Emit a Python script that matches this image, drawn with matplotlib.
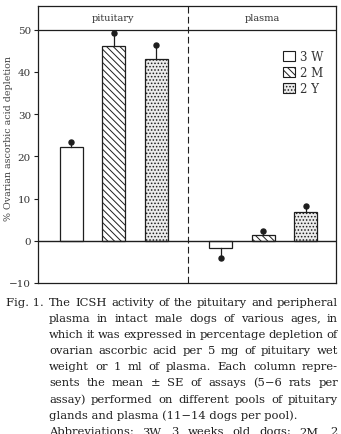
import matplotlib
matplotlib.use("Agg")
import matplotlib.pyplot as plt
from matplotlib.patches import Patch

plt.rcParams['font.family'] = ['DejaVu Serif']
plt.rcParams['hatch.linewidth'] = 0.7

# ---- data ----
groups = ['pituitary', 'plasma']
ages = ['3 W', '2 M', '2 Y']
pit_mean = [22.3, 46.2, 43.1]
pit_se = [1.1, 3.0, 3.2]
pla_mean = [-1.7, 1.3, 6.9]
pla_se = [2.3, 0.9, 1.3]
yticks = [-10, 0, 10, 20, 30, 40, 50]
caption_lines = [
    "The ICSH activity of the pituitary and peripheral",
    "plasma in intact male dogs of various ages, in",
    "which it was expressed in percentage depletion of",
    "ovarian ascorbic acid per 5 mg of pituitary wet",
    "weight or 1 ml of plasma. Each column repre-",
    "sents the mean \u00b1 SE of assays (5\u22126 rats per",
    "assay) performed on different pools of pituitary",
    "glands and plasma (11\u221214 dogs per pool).",
    "Abbreviations: 3W, 3 weeks old dogs; 2M, 2",
]
justified = [True, True, True, True, True, True, True, False, True]

W, H = 341, 435
ink = '#1e1e1e'
fig = plt.figure(figsize=(W / 100, H / 100), dpi=100)
ax = fig.add_axes([38 / W, 1 - 284 / H, (336 - 38) / W, (284 - 7) / H])

face = ['white', 'white', '#ebebeb']
hatches = [None, '\\\\\\\\\\', '.....']
offsets = [0.0, 3.53]
means = [pit_mean, pla_mean]
ses = [pit_se, pla_se]
bw = 0.54

for g in range(2):
    for i in range(3):
        x = 1 + i + offsets[g]
        m = means[g][i]
        s = ses[g][i]
        ax.bar(x, m, width=bw, color=face[i], edgecolor=ink, linewidth=0.9,
               hatch=hatches[i], zorder=2)
        tip = m + s if m >= 0 else m - s
        ax.plot([x, x], [m, tip], color=ink, lw=0.9, zorder=3)
        ax.plot([x], [tip], 'o', color=ink, ms=3.6, zorder=4)

ax.set_xlim(0.21, 7.25)
ax.set_ylim(-10, 55.6)
ax.axhline(0, color=ink, lw=1.0, zorder=3)
ax.axhline(50, color=ink, lw=0.9, zorder=3)
divider = 3.76
ax.axvline(divider, color=ink, lw=0.8, ls=(0, (6, 3)), zorder=1)

ax.text((0.21 + divider) / 2, 52.9, groups[0], ha='center', va='center',
        fontsize=7, color='#333333')
ax.text((divider + 7.25) / 2, 52.9, groups[1], ha='center', va='center',
        fontsize=7, color='#333333')

ax.set_xticks([])
ax.set_yticks(yticks)
ax.set_yticklabels([str(t) if t >= 0 else '\u2212' + str(-t) for t in yticks],
                   fontsize=7.5, color='#333333')
ax.tick_params(axis='y', direction='out', length=3, width=0.8, pad=2, colors=ink,
               labelcolor='#333333')
for sp in ax.spines.values():
    sp.set_color(ink)
    sp.set_linewidth(0.9)

ax.set_ylabel('% Ovarian ascorbic acid depletion', fontsize=6.8, color='#444444')
ax.yaxis.set_label_coords(-0.085, 0.527)

handles = [Patch(facecolor=face[i], edgecolor=ink, hatch=hatches[i], linewidth=0.8)
           for i in range(3)]
leg = ax.legend(handles, ages, loc='upper left',
                bbox_to_anchor=((283 - 38) / 298, (284 - 51) / 277),
                frameon=False, fontsize=8.5, handlelength=1.05, handleheight=0.95,
                handletextpad=0.35, labelspacing=0.25, borderpad=0,
                borderaxespad=0)
for t in leg.get_texts():
    t.set_color('#333333')

# ---- caption ----
fs = 8.25
x0, x1 = 49, 338
renderer = fig.canvas.get_renderer()
fig.text(6 / W, 1 - (302 + 4) / H, 'Fig. 1.', fontsize=fs, color=ink,
         va='baseline', ha='left')
for k, line in enumerate(caption_lines):
    yb = 1 - (302 + k * 16.1 + 4) / H
    words = line.split(' ')
    if not justified[k]:
        fig.text(x0 / W, yb, line, fontsize=fs, color=ink, va='baseline', ha='left')
        continue
    tobjs = [fig.text(0, yb, w, fontsize=fs, color=ink, va='baseline', ha='left')
             for w in words]
    widths = [t.get_window_extent(renderer).width for t in tobjs]
    gap = (x1 - x0 - sum(widths)) / max(len(words) - 1, 1)
    xx = x0
    for t, w in zip(tobjs, widths):
        t.set_x(xx / W)
        xx += w + gap

fig.savefig('out.png', dpi=100)
